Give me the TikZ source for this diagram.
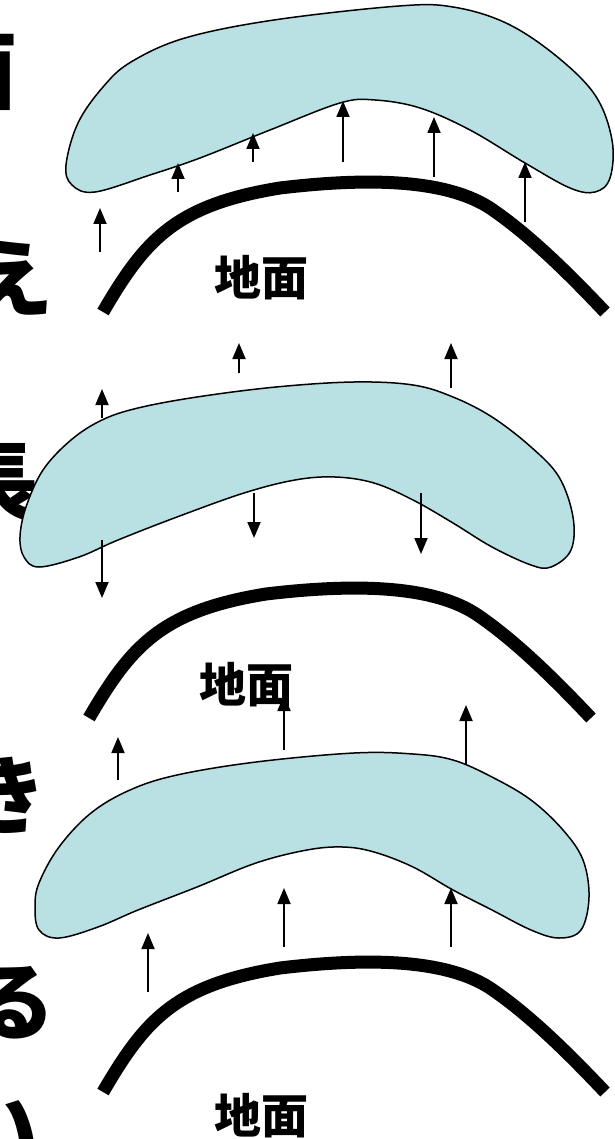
\documentclass[tikz,border=0pt]{standalone}
\usepackage{fontspec}
\newfontfamily\jp{Noto Sans CJK JP}
\usetikzlibrary{arrows.meta}
\definecolor{airmass}{RGB}{185,224,227}
\tikzset{
  blob/.style={draw=black, line width=1.5pt, fill=airmass},
  ground/.style={draw=black, line width=13pt},
  lift/.style={draw=black, line width=1.8pt, -{Triangle[length=16pt,width=13pt]}},
  sidechar/.style={inner sep=0pt, font=\jp\bfseries\fontsize{85}{90}\selectfont},
  groundlabel/.style={inner sep=0pt, font=\jp\bfseries\fontsize{47}{52}\selectfont},
  pics/hill/.style={code={
    \draw[ground] (103,312) .. controls (145,240) and (175,205) .. (280,188)
      .. controls (380,176) and (450,182) .. (490,208)
      .. controls (530,235) and (570,275) .. (605,312);
  }},
}
\begin{document}
\begin{tikzpicture}[x=1pt,y=-1pt]
\useasboundingbox (0,0) rectangle (614,1139);
\clip (0,0) rectangle (614,1139);

% clipped column text on the left edge
\node[sidechar] (c1) at (-25,72) {面};
\node[sidechar] (c2) at (11,278) {え};
\node[sidechar] (c3) at (-4,483) {長};
\node[sidechar] (c4) at (5,795) {き};
\node[sidechar] (c5) at (13,1003) {る};
\node[sidechar] (c6) at (-4,1131) {い};

% ---- panel 1 ----
\draw[blob] plot[smooth cycle, tension=0.6] coordinates {
  (66,165) (78,123) (103,87) (131,62) (185,38) (274,20) (399,6) (453,7)
  (506,23) (555,55) (595,95) (612,140) (610,178) (595,192) (570,188)
  (525,163) (470,130) (420,108) (375,100) (340,103) (270,130) (200,158)
  (150,175) (95,192) (72,185)};
\pic at (0,0) {hill};
\node[groundlabel] (g1) at (261,278) {地面};
\draw[lift] (100,252) -- (100,208);
\draw[lift] (178,192) -- (178,163);
\draw[lift] (253,162) -- (253,133);
\draw[lift] (343,162) -- (343,101);
\draw[lift] (434,177) -- (434,117);
\draw[lift] (525,222) -- (525,162);

% ---- panel 2 ----
\draw[blob] plot[smooth cycle, tension=0.6] coordinates {
  (20,537) (26,507) (43,470) (71,440) (102,420) (138,408) (197,397)
  (276,387) (354,382) (413,385) (453,397) (492,417) (531,447) (559,477)
  (573,517) (571,550) (551,567) (531,565) (492,547) (453,523) (413,500)
  (374,483) (335,477) (295,480) (244,493) (177,517) (118,540) (79,557)
  (39,567) (24,557)};
\pic at (-14,406) {hill};
\node[groundlabel] (g2) at (246,685) {地面};
\draw[lift] (102,418) -- (102,389);
\draw[lift] (239,373) -- (239,343);
\draw[lift] (451,388) -- (451,343);
\draw[lift] (102,540) -- (102,598);
\draw[lift] (254,493) -- (254,538);
\draw[lift] (421,493) -- (421,554);

% ---- panel 3 ----
\draw[blob] plot[smooth cycle, tension=0.6] coordinates {
  (35,907) (39,883) (59,847) (91,813) (130,790) (177,775) (256,762)
  (354,753) (413,754) (453,760) (492,777) (531,800) (563,830) (583,860)
  (589,897) (581,930) (559,938) (531,930) (492,910) (453,890) (413,867)
  (374,852) (343,847) (307,850) (256,863) (197,887) (138,910) (98,927)
  (59,938) (39,930)};
\pic at (0,780) {hill};
\node[groundlabel] (g3) at (261,1116) {地面};
\draw[lift] (118,780) -- (118,737);
\draw[lift] (284,750) -- (284,695);
\draw[lift] (466,765) -- (466,705);
\draw[lift] (148,992) -- (148,933);
\draw[lift] (284,947) -- (284,888);
\draw[lift] (451,947) -- (451,888);
\end{tikzpicture}
\end{document}
